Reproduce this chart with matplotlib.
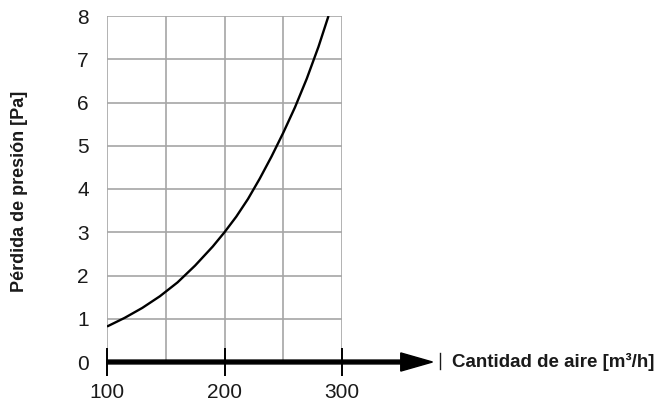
import matplotlib
matplotlib.use('Agg')
import matplotlib.pyplot as plt

plt.rcParams['font.family'] = ['Liberation Sans', 'DejaVu Sans']

# caudal de aire [m3/h] y pérdida de presión [Pa]
caudal = [100, 115, 130, 145, 160, 175, 190, 200, 210, 220, 230, 240, 250, 260, 270, 280, 288.5]
perdida = [0.82, 1.02, 1.25, 1.52, 1.84, 2.23, 2.67, 3.0, 3.36, 3.77, 4.24, 4.75, 5.30, 5.89,
           6.55, 7.29, 8.0]

x_ticks = [100, 200, 300]
x_grid = [100, 150, 200, 250, 300]
y_ticks = [0, 1, 2, 3, 4, 5, 6, 7, 8]

grid_color = '#a6a6a6'
text_color = '#1a1a1a'

fig = plt.figure(figsize=(6.62, 4.05), dpi=100)
ax = fig.add_axes([107 / 662, 43 / 405, 235 / 662, 346 / 405])
ax.set_xlim(100, 300)
ax.set_ylim(0, 8)

for s in ax.spines.values():
    s.set_visible(False)

# rejilla
for gx in x_grid:
    ax.axvline(gx, color=grid_color, lw=1.2, zorder=1)
for gy in y_ticks[1:]:
    ax.axhline(gy, color=grid_color, lw=1.2, zorder=1)

ax.plot(caudal, perdida, color='black', lw=1.7, zorder=3,
        solid_joinstyle='round', solid_capstyle='butt')

# eje x con flecha
ax.arrow(100, 0, 277, 0, width=0.09, head_width=0.42, head_length=27,
         length_includes_head=True, color='black', clip_on=False, zorder=4)

ax.set_xticks(x_ticks)
ax.set_yticks(y_ticks)
ax.tick_params(axis='x', direction='inout', length=20, width=1.4, color='black',
               pad=5, labelsize=15, labelcolor=text_color)
ax.tick_params(axis='y', length=0, pad=13, labelsize=15, labelcolor=text_color)

fig.text(20 / 662, 1 - 191 / 405, 'Pérdida de presión [Pa]', rotation=90,
         ha='center', va='center', fontsize=13, fontweight='bold', color=text_color)

# separador y etiqueta del eje x
fig.add_artist(plt.Line2D([440 / 662, 440 / 662], [(405 - 369) / 405, (405 - 353) / 405],
                          color=text_color, lw=1))
fig.text(452 / 662, (405 - 362) / 405, 'Cantidad de aire [m³/h]',
         ha='left', va='center', fontsize=13.5, fontweight='bold', color=text_color)

fig.savefig('out.png', dpi=100)
